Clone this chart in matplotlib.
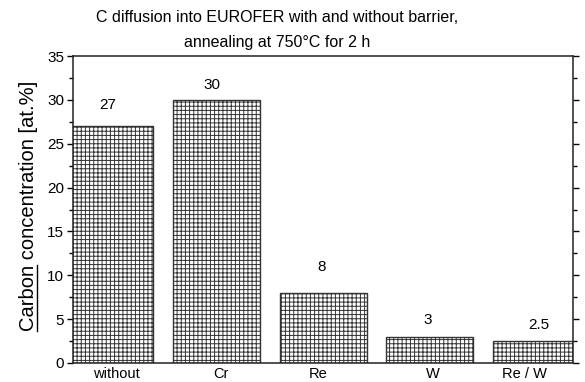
import matplotlib
matplotlib.use("Agg")
import matplotlib.pyplot as plt
from matplotlib.ticker import MultipleLocator
from matplotlib.lines import Line2D
from matplotlib.transforms import ScaledTranslation

plt.rcParams['font.family'] = ['Liberation Sans', 'DejaVu Sans']
plt.rcParams['hatch.linewidth'] = 0.7
plt.rcParams['hatch.color'] = '#333333'

categories = ["without", "Cr", "Re", "W", "Re / W"]
carbon = [27, 30, 8, 3, 2.5]
value_labels = ["27", "30", "8", "3", "2.5"]

W, H = 585, 382
fig = plt.figure(figsize=(W / 100, H / 100), dpi=100)
ax = fig.add_axes([73 / W, 19 / H, 500 / W, 307 / H])

x = list(range(len(categories)))
ax.bar(x, carbon, width=0.815, facecolor='white', edgecolor='#333333',
       linewidth=1.0, hatch='++++')

# value annotations above bars, nudged in points
nudges = [(-1.5, 15), (-3.5, 11), (-1, 18.5), (-1.5, 12), (1.5, 11.5)]
for xi, v, lab, (dx, dy) in zip(x, carbon, value_labels, nudges):
    ax.annotate(lab, (xi, v), xytext=(dx, dy), textcoords='offset points',
                ha='center', va='center', fontsize=11)

ax.set_xlim(-0.344, 4.340)
ax.set_ylim(0, 35)
ax.set_xticks(x)
ax.set_xticklabels(categories, fontsize=10.5)
ax.tick_params(axis='x', length=0, pad=3)
# horizontal shifts of the category names, in points
name_shift = [4.5, 3.5, -3.5, 2, -9]
for lbl, dx in zip(ax.get_xticklabels(), name_shift):
    lbl.set_transform(lbl.get_transform() +
                      ScaledTranslation(dx / 72, 0, fig.dpi_scale_trans))

ax.yaxis.set_major_locator(MultipleLocator(5))
ax.yaxis.set_minor_locator(MultipleLocator(2.5))
ax.tick_params(axis='y', which='both', direction='out', right=True,
               labelright=False, labelsize=11, pad=2, width=1.0)
ax.tick_params(axis='y', which='major', length=4.5)
ax.tick_params(axis='y', which='minor', length=3)
for s in ax.spines.values():
    s.set_linewidth(1.1)
    s.set_color('#222222')

# y label with the word "Carbon" underlined
ylab = fig.text(29 / W, 1 - 206 / H, "Carbon concentration [at.%]",
                fontsize=14.5, rotation=90, ha='center', va='center')
fig.canvas.draw()
renderer = fig.canvas.get_renderer()
full = ylab.get_window_extent(renderer)
probe = fig.text(0, 0, "Carbon", fontsize=14.5, rotation=90)
word_h = probe.get_window_extent(renderer).height
probe.remove()
ux = (full.x1 - 2) / fig.bbox.width
uy0 = full.y0 / fig.bbox.height
uy1 = (full.y0 + word_h) / fig.bbox.height
fig.add_artist(Line2D([ux, ux], [uy0, uy1], transform=fig.transFigure,
                      color='black', linewidth=1.0))

fig.text(0.474, 1 - 17 / H, "C diffusion into EUROFER with and without barrier,",
         ha='center', va='center', fontsize=11.5)
fig.text(0.474, 1 - 42 / H, "annealing at 750°C for 2 h",
         ha='center', va='center', fontsize=11.5)

fig.savefig("out.png", dpi=100)
